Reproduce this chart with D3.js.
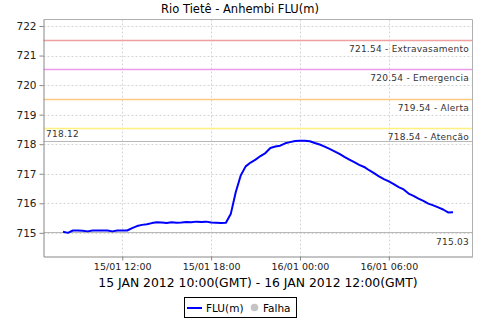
<!DOCTYPE html>
<html><head><meta charset="utf-8">
<script src="https://cdn.jsdelivr.net/npm/d3@7/dist/d3.min.js"></script>
<style>body{margin:0;background:#fff}svg{display:block}text{font-family:"DejaVu Sans",sans-serif}</style>
</head><body><svg id="c" width="480" height="320"></svg>
<script>
const title = "Rio Tietê - Anhembi FLU(m)";
const axisTitle = "15 JAN 2012 10:00(GMT) - 16 JAN 2012 12:00(GMT)";
const startTime = "2012-01-15T08:00:00Z";
const stepMinutes = 20;
const levels = [715.04,715.00,715.08,715.08,715.07,715.05,715.08,715.08,715.08,715.08,715.05,715.08,
  715.08,715.08,715.16,715.23,715.27,715.29,715.33,715.36,715.35,715.33,715.36,715.34,715.35,715.37,
  715.36,715.38,715.37,715.38,715.35,715.34,715.33,715.34,715.65,716.38,716.94,717.25,717.38,717.48,
  717.60,717.70,717.87,717.92,717.95,718.03,718.07,718.11,718.12,718.12,718.10,718.04,717.99,717.92,
  717.84,717.76,717.67,717.57,717.48,717.39,717.30,717.23,717.12,717.02,716.91,716.82,716.74,716.65,
  716.55,716.47,716.33,716.25,716.16,716.08,715.99,715.93,715.86,715.79,715.69,715.70];
const thresholds = [721.54,720.54,719.54,718.54];
const thresholdNames = ["Extravasamento","Emergencia","Alerta","Atenção"];
const thresholdColors = ["#f0a0a0","#ee99ee","#ffc880","#fff080"];
const maxLabel = "718.12", minLabel = "715.03";
const maxValue = 718.12, minValue = 715.03;
const yTicks = [715,716,717,718,719,720,721,722];
const xTickTimes = ["2012-01-15T12:00:00Z","2012-01-15T18:00:00Z","2012-01-16T00:00:00Z","2012-01-16T06:00:00Z"];
const legendItems = ["FLU(m)","Falha"];

const t0 = new Date(startTime).getTime();
const data = levels.map((v,i)=>({t:new Date(t0+i*stepMinutes*60000), v}));

const svg = d3.select("#c");
const L=43.5,R=472.5,T=19.5,B=256.5;
const tExt = d3.extent(data,d=>d.t);
const span = tExt[1]-tExt[0];
const x = d3.scaleUtc().domain([new Date(+tExt[0]-span*0.05), new Date(+tExt[1]+span*0.05)]).range([L,R]);
const y = d3.scaleLinear().domain([714.2,722.22]).range([B,T]);

svg.append("text").attr("x",240).attr("y",12.5).attr("text-anchor","middle").attr("font-size",11.5).attr("fill","#000").text(title);

// grid
const g = svg.append("g");
g.selectAll(".hg").data(yTicks).join("line").attr("x1",L).attr("x2",R)
 .attr("y1",d=>Math.round(y(d))+0.5).attr("y2",d=>Math.round(y(d))+0.5)
 .attr("stroke","#d4d4d4").attr("stroke-dasharray","2,2");
g.selectAll(".vg").data(xTickTimes).join("line")
 .attr("x1",d=>Math.round(x(new Date(d)))+0.5).attr("x2",d=>Math.round(x(new Date(d)))+0.5)
 .attr("y1",T).attr("y2",B).attr("stroke","#d4d4d4").attr("stroke-dasharray","2,2");

// thresholds
thresholds.forEach((th,i)=>{
  const yy = Math.round(y(th))+0.5;
  svg.append("line").attr("x1",L).attr("x2",R).attr("y1",yy).attr("y2",yy).attr("stroke",thresholdColors[i]).attr("stroke-width",1.3);
  svg.append("text").attr("x",469).attr("y",yy+11.5).attr("text-anchor","end").attr("font-size",9)
   .attr("letter-spacing",0.25).attr("fill","#333").text(th.toFixed(2)+" - "+thresholdNames[i]);
});
// max/min lines
[[maxValue,maxLabel,"start"],[minValue,minLabel,"end"]].forEach(([v,lab,anc],i)=>{
  const yy = Math.round(y(v))+0.5;
  svg.append("line").attr("x1",L).attr("x2",R).attr("y1",yy).attr("y2",yy).attr("stroke","#b8b8b8");
  svg.append("text").attr("x",i===0?46:469).attr("y",i===0?yy-4.5:yy+12).attr("text-anchor",anc).attr("font-size",9)
   .attr("letter-spacing",0.25).attr("fill","#333").text(lab);
});

// frame
svg.append("line").attr("x1",L).attr("x2",R).attr("y1",T).attr("y2",T).attr("stroke","#b0b0b0");
svg.append("line").attr("x1",R).attr("x2",R).attr("y1",T).attr("y2",B).attr("stroke","#b0b0b0");

// line
svg.append("path").datum(data).attr("fill","none").attr("stroke","#0000ff").attr("stroke-width",2)
 .attr("stroke-linejoin","round").attr("d",d3.line().x(d=>x(d.t)).y(d=>y(d.v)));

// axes
const ya = svg.append("g").attr("transform",`translate(${L},0)`)
 .call(d3.axisLeft(y).tickValues(yTicks).tickFormat(d3.format("d")).tickSize(4).tickSizeOuter(0));
ya.select(".domain").attr("stroke","#888");
ya.selectAll(".tick line").attr("stroke","#888");
ya.selectAll("text").attr("font-size",10.5).attr("fill","#222").attr("font-family","DejaVu Sans").attr("x",-7);
const xa = svg.append("g").attr("transform",`translate(0,${B})`)
 .call(d3.axisBottom(x).tickValues(xTickTimes.map(d=>new Date(d))).tickFormat(d3.utcFormat("%d/%m %H:%M")).tickSize(4).tickSizeOuter(0));
xa.select(".domain").attr("stroke","#888");
xa.selectAll(".tick line").attr("stroke","#888");
xa.selectAll("text").attr("font-size",9.5).attr("fill","#222").attr("font-family","DejaVu Sans").attr("y",7);

svg.append("text").attr("x",(L+R)/2).attr("y",287).attr("text-anchor","middle").attr("font-size",12.4).attr("fill","#000").text(axisTitle);

// legend
const lg = svg.append("g");
lg.append("rect").attr("x",184.5).attr("y",297.5).attr("width",112).attr("height",20).attr("fill","#fff").attr("stroke","#000");
lg.append("line").attr("x1",187).attr("x2",202).attr("y1",308).attr("y2",308).attr("stroke","#0000ff").attr("stroke-width",2);
lg.append("text").attr("x",206).attr("y",312).attr("font-size",10.5).text(legendItems[0]);
lg.append("circle").attr("cx",254.5).attr("cy",307.5).attr("r",3.8).attr("fill","#c4c4c4");
lg.append("text").attr("x",263).attr("y",312).attr("font-size",10.5).text(legendItems[1]);
</script></body></html>
